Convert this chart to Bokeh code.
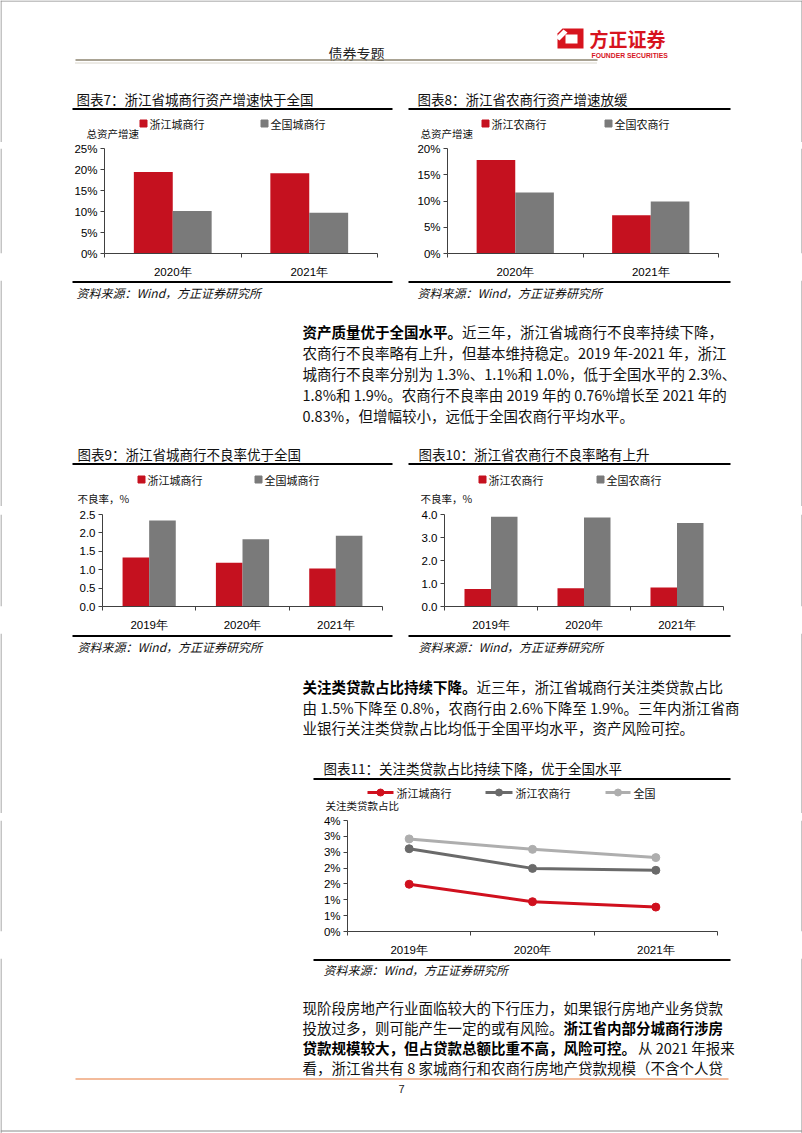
import numpy as np
from bokeh.plotting import figure
from bokeh.models import Range1d, FixedTicker, PrintfTickFormatter, ColumnDataSource
from bokeh.layouts import column, row
from bokeh.transform import dodge
from bokeh.core.properties import value
from bokeh.embed import file_html
from bokeh.resources import INLINE

# ---------------- data ----------------
years_2 = ["2020年", "2021年"]
growth_zj_ccb = [19.4, 19.1]      # 浙江城商行 总资产增速 %
growth_cn_ccb = [10.1, 9.7]       # 全国城商行
growth_zj_rcb = [17.8, 7.3]       # 浙江农商行
growth_cn_rcb = [11.6, 9.9]       # 全国农商行

years_3 = ["2019年", "2020年", "2021年"]
npl_zj_ccb = [1.33, 1.19, 1.03]   # 不良率 %
npl_cn_ccb = [2.34, 1.83, 1.92]
npl_zj_rcb = [0.76, 0.79, 0.83]
npl_cn_rcb = [3.90, 3.87, 3.63]

sm_zj_ccb = [1.49, 0.94, 0.77]    # 关注类贷款占比 %
sm_zj_rcb = [2.61, 1.99, 1.93]
sm_cn = [2.92, 2.59, 2.33]

ticks_growth7 = [0, 5, 10, 15, 20, 25]
ticks_growth8 = [0, 5, 10, 15, 20]
ticks_npl9 = [0, 0.5, 1.0, 1.5, 2.0, 2.5]
ticks_npl10 = [0, 1, 2, 3, 4]
ticks_sm = [0, 0.5, 1.0, 1.5, 2.0, 2.5, 3.0, 3.5]
tick_labels_sm = ["0%", "1%", "1%", "2%", "2%", "3%", "3%", "4%"]

# ---------------- style ----------------
RED = "#C5111F"
GRAY = "#7A7A7A"
LRED = "#D0101E"
DGRAY = "#6A6A6A"
LGRAY = "#AEAEAE"
AX = "#404040"
BORDER = "#8A8A8A"
CJK = "Noto Sans CJK SC"
LAT = "Liberation Sans"
PAGE_W = 802


def canvas(x0, x1, y0, y1):
    p = figure(width=x1 - x0, height=y1 - y0, x_range=Range1d(x0, x1), y_range=Range1d(y1, y0),
               min_border=0, toolbar_location=None, tools="", output_backend="svg",
               x_axis_type=None, y_axis_type=None, title=None)
    p.outline_line_color = None
    p.background_fill_color = "white"
    p.border_fill_color = "white"
    if x0 == 0:
        p.segment(x0=[0.5], y0=[y0], x1=[0.5], y1=[y1], line_color=BORDER, line_width=1)
    if x1 == PAGE_W:
        p.segment(x0=[PAGE_W - 0.5], y0=[y0], x1=[PAGE_W - 0.5], y1=[y1], line_color=BORDER, line_width=1)
    return p


def txt(p, x, y, s, size, color="#111111", style="normal", align="left", font=CJK):
    p.text(x=[x], y=[y], text=[s], text_font=value(font), text_font_size=f"{size}px",
           text_font_style=style, text_color=color, text_align=align, text_baseline="middle")


def hline(p, x0, x1, y, color="#000000", w=1.0, dash="solid"):
    p.segment(x0=[x0], y0=[y], x1=[x1], y1=[y], line_color=color, line_width=w, line_dash=dash)


def sq(p, x, y, color):
    p.scatter(x=[x], y=[y], marker="square", size=7, fill_color=color, line_color=color)


def style_axes(p, cats, ticks, fmt=None, overrides=None):
    n = len(cats)
    pos = [i + 0.5 for i in range(n)]
    xa = p.xaxis[0]
    xa.ticker = FixedTicker(ticks=pos, minor_ticks=list(range(n + 1)))
    xa.major_label_overrides = {pv: c for pv, c in zip(pos, cats)}
    xa.major_tick_out = 0
    xa.major_tick_in = 0
    xa.minor_tick_out = 4
    xa.minor_tick_in = 0
    xa.minor_tick_line_color = AX
    xa.axis_line_color = AX
    xa.major_label_standoff = 8
    xa.major_label_text_font = LAT
    xa.major_label_text_font_size = "11.5px"
    xa.major_label_text_color = "#000000"
    ya = p.yaxis[0]
    ya.ticker = FixedTicker(ticks=ticks, minor_ticks=[])
    if fmt:
        ya.formatter = PrintfTickFormatter(format=fmt)
    if overrides:
        ya.major_label_overrides = overrides
    ya.axis_line_color = AX
    ya.major_tick_line_color = AX
    ya.major_tick_out = 4
    ya.major_tick_in = 0
    ya.minor_tick_out = 0
    ya.minor_tick_in = 0
    ya.major_label_standoff = 3
    ya.major_label_text_font = LAT
    ya.major_label_text_font_size = "11.5px"
    ya.major_label_text_color = "#000000"
    p.grid.visible = False
    p.outline_line_color = None
    return pos


def chart_fig(x0, x1, y0, y1, fl, fr, ft, fb, n, ymax):
    return figure(width=x1 - x0, height=y1 - y0, x_range=Range1d(0, n), y_range=Range1d(0, ymax),
                  min_border_left=fl - x0, min_border_right=x1 - fr,
                  min_border_top=ft - y0, min_border_bottom=y1 - fb,
                  toolbar_location=None, tools="", output_backend="svg", title=None)


def bar_chart(x0, x1, y0, y1, fl, fr, ft, fb, cats, a, b, ymax, ticks, fmt):
    p = chart_fig(x0, x1, y0, y1, fl, fr, ft, fb, len(cats), ymax)
    pos = style_axes(p, cats, ticks, fmt=fmt)
    src = ColumnDataSource(dict(pos=pos, a=a, b=b))
    w = 0.285
    p.vbar(x=dodge("pos", -w / 2), top="a", width=w, source=src, fill_color=RED, line_color=None)
    p.vbar(x=dodge("pos", w / 2), top="b", width=w, source=src, fill_color=GRAY, line_color=None)
    return p


def line_chart(x0, x1, y0, y1, fl, fr, ft, fb):
    p = chart_fig(x0, x1, y0, y1, fl, fr, ft, fb, len(years_3), ticks_sm[-1])
    pos = style_axes(p, years_3, ticks_sm, overrides={t: l for t, l in zip(ticks_sm, tick_labels_sm)})
    src = ColumnDataSource(dict(pos=pos, zc=sm_zj_ccb, zr=sm_zj_rcb, cn=sm_cn))
    for col, colr in [("cn", LGRAY), ("zr", DGRAY), ("zc", LRED)]:
        p.line("pos", col, source=src, line_color=colr, line_width=3)
        p.scatter("pos", col, source=src, size=8, fill_color=colr, line_color=colr)
    return p


# ---------------- strip 1: header + chart titles (0-142) ----------------
s1 = canvas(0, PAGE_W, 0, 142)
hline(s1, 0, PAGE_W, 0.5, BORDER, 1)
txt(s1, 356, 52, "债券专题", 14, "#222222", align="center")
s1.patch(x=[557, 562, 583, 583, 557], y=[33, 28, 28, 48, 48], fill_color="#D7141E", line_color=None)
s1.patch(x=[565, 577, 577, 565], y=[34, 34, 43, 43], fill_color="white", line_color=None)
s1.patch(x=[555, 563, 567, 559], y=[37, 29, 32, 40], fill_color="white", line_color=None)
txt(s1, 589, 38, "方正证券", 19, "#D7141E", style="bold")
txt(s1, 591, 55, "FOUNDER SECURITIES", 6.8, "#D7141E", style="bold", font=LAT)
hline(s1, 75, 597, 59.5, "#8C8470", 1.5)
hline(s1, 75, 597, 62.5, "#B4AC98", 1, "1 1")

txt(s1, 76, 98, "图表7：浙江省城商行资产增速快于全国", 13.5)
txt(s1, 417, 98, "图表8：浙江省农商行资产增速放缓", 13.5)
hline(s1, 72, 392, 108.5, "#000000", 2)
hline(s1, 408, 730, 108.5, "#000000", 2)
sq(s1, 143, 123, RED)
txt(s1, 149, 123, "浙江城商行", 11)
sq(s1, 264, 123, GRAY)
txt(s1, 270, 123, "全国城商行", 11)
sq(s1, 485, 123, RED)
txt(s1, 491, 123, "浙江农商行", 11)
sq(s1, 608, 123, GRAY)
txt(s1, 614, 123, "全国农商行", 11)
txt(s1, 86, 132.5, "总资产增速", 10.5)
txt(s1, 420, 132.5, "总资产增速", 10.5)

# ---------------- strip 2: charts 7 & 8 (142-280) ----------------
fig7 = bar_chart(60, 392, 142, 280, 104, 377, 148, 256, years_2, growth_zj_ccb, growth_cn_ccb,
                 25, ticks_growth7, "%d%%")
fig8 = bar_chart(405, 735, 142, 280, 447, 718, 148, 256, years_2, growth_zj_rcb, growth_cn_rcb,
                 20, ticks_growth8, "%d%%")
s2 = row(canvas(0, 60, 142, 280), fig7, canvas(392, 405, 142, 280), fig8, canvas(735, PAGE_W, 142, 280))

# ---------------- strip 3: sources, paragraph 1, chart 9/10 titles (280-506) ----------------
s3 = canvas(0, PAGE_W, 280, 506)
hline(s3, 72, 392, 281.5, "#000000", 2)
hline(s3, 408, 730, 281.5, "#000000", 2)
txt(s3, 76, 292, "资料来源：Wind，方正证券研究所", 12, style="italic")
txt(s3, 417, 292, "资料来源：Wind，方正证券研究所", 12, style="italic")
PX = 302
CW = 14.5
txt(s3, PX, 331, "资产质量优于全国水平。", 14.5, "#000000", style="bold")
txt(s3, PX + 11 * CW, 331, "近三年，浙江省城商行不良率持续下降，", 14.5)
txt(s3, PX, 352, "农商行不良率略有上升，但基本维持稳定。2019 年-2021 年，浙江", 14.5)
txt(s3, PX, 373, "城商行不良率分别为 1.3%、1.1%和 1.0%，低于全国水平的 2.3%、", 14.5)
txt(s3, PX, 394, "1.8%和 1.9%。农商行不良率由 2019 年的 0.76%增长至 2021 年的", 14.5)
txt(s3, PX, 415, "0.83%，但增幅较小，远低于全国农商行平均水平。", 14.5)

txt(s3, 77, 453, "图表9：浙江省城商行不良率优于全国", 13.5)
txt(s3, 418, 453, "图表10：浙江省农商行不良率略有上升", 13.5)
hline(s3, 72, 392, 463.5, "#000000", 2)
hline(s3, 408, 730, 463.5, "#000000", 2)
sq(s3, 141, 479, RED)
txt(s3, 147, 479, "浙江城商行", 11)
sq(s3, 258, 479, GRAY)
txt(s3, 264, 479, "全国城商行", 11)
sq(s3, 482, 479, RED)
txt(s3, 488, 479, "浙江农商行", 11)
sq(s3, 600, 479, GRAY)
txt(s3, 606, 479, "全国农商行", 11)
txt(s3, 77, 497.5, "不良率，%", 10.5)
txt(s3, 420, 497.5, "不良率，%", 10.5)

# ---------------- strip 4: charts 9 & 10 (506-633) ----------------
fig9 = bar_chart(60, 392, 506, 633, 102, 382, 514, 609, years_3, npl_zj_ccb, npl_cn_ccb,
                 2.5, ticks_npl9, "%.1f")
fig10 = bar_chart(405, 735, 506, 633, 444, 723, 514, 609, years_3, npl_zj_rcb, npl_cn_rcb,
                  4.0, ticks_npl10, "%.1f")
s4 = row(canvas(0, 60, 506, 633), fig9, canvas(392, 405, 506, 633), fig10, canvas(735, PAGE_W, 506, 633))

# ---------------- strip 5: sources, paragraph 2, chart 11 title (633-813) ----------------
s5 = canvas(0, PAGE_W, 633, 813)
hline(s5, 72, 392, 635.5, "#000000", 2)
hline(s5, 408, 730, 635.5, "#000000", 2)
txt(s5, 77, 646, "资料来源：Wind，方正证券研究所", 12, style="italic")
txt(s5, 418, 646, "资料来源：Wind，方正证券研究所", 12, style="italic")
txt(s5, PX, 686, "关注类贷款占比持续下降。", 14.5, "#000000", style="bold")
txt(s5, PX + 12 * CW, 686, "近三年，浙江省城商行关注类贷款占比", 14.5)
txt(s5, PX, 706.5, "由 1.5%下降至 0.8%，农商行由 2.6%下降至 1.9%。三年内浙江省商", 14.5)
txt(s5, PX, 727, "业银行关注类贷款占比均低于全国平均水平，资产风险可控。", 14.5)

txt(s5, 323, 767, "图表11：关注类贷款占比持续下降，优于全国水平", 13.5)
hline(s5, 313, 730, 778.5, "#000000", 2)
for (lx0, lx1, colr, lab) in [(367, 393, LRED, "浙江城商行"), (485, 512, DGRAY, "浙江农商行"), (605, 630, LGRAY, "全国")]:
    hline(s5, lx0, lx1, 792, colr, 3)
    s5.scatter(x=[(lx0 + lx1) / 2], y=[792], size=7, fill_color=colr, line_color=colr)
    txt(s5, lx1 + 3, 792, lab, 11)
txt(s5, 325, 804.5, "关注类贷款占比", 10.5)

# ---------------- strip 6: chart 11 (813-958) ----------------
fig11 = line_chart(300, 730, 813, 958, 347, 717, 820, 933)
s6 = row(canvas(0, 300, 813, 958), fig11, canvas(730, PAGE_W, 813, 958))

# ---------------- strip 7: source, paragraph 3, footer (958-1133) ----------------
s7 = canvas(0, PAGE_W, 958, 1133)
hline(s7, 313, 730, 959.5, "#000000", 2)
txt(s7, 323, 969, "资料来源：Wind，方正证券研究所", 12, style="italic")
txt(s7, PX, 1007, "现阶段房地产行业面临较大的下行压力，如果银行房地产业务贷款", 14.5)
txt(s7, PX, 1027, "投放过多，则可能产生一定的或有风险。", 14.5)
txt(s7, PX + 18 * CW, 1027, "浙江省内部分城商行涉房", 14.5, "#000000", style="bold")
txt(s7, PX, 1047, "贷款规模较大，但占贷款总额比重不高，风险可控。", 14.5, "#000000", style="bold")
txt(s7, PX + 23 * CW + 2, 1047, "从 2021 年报来", 14.5)
txt(s7, PX, 1067, "看，浙江省共有 8 家城商行和农商行房地产贷款规模（不含个人贷", 14.5)
hline(s7, 75, 728, 1078.5, "#EFA57A", 1.5)
txt(s7, 401, 1088, "7", 11, "#222222", align="center", font=LAT)
hline(s7, 0, PAGE_W, 1130.5, BORDER, 1)

page = column(s1, s2, s3, s4, s5, s6, s7, spacing=0)

with open("out.html", "w") as f:
    f.write(file_html(page, INLINE))
